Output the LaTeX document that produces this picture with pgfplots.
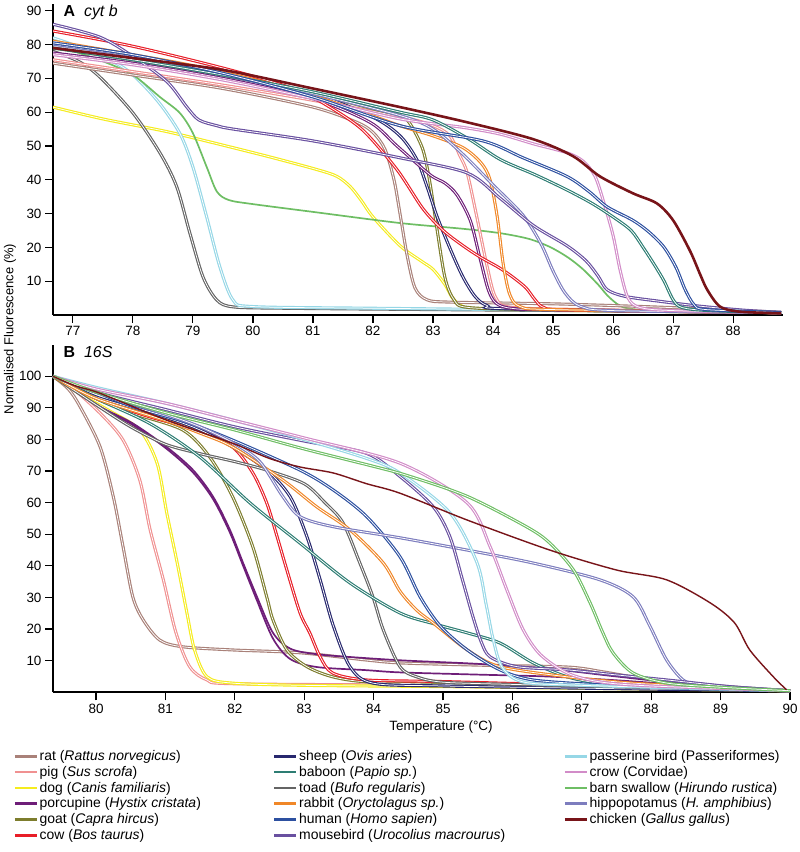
\documentclass[border=0pt]{standalone}
\usepackage{pgfplots}
\pgfplotsset{compat=1.18}
\usepackage{fontspec}
\setmainfont{Liberation Sans}

\definecolor{cRat}{RGB}{169,129,121}
\definecolor{cPig}{RGB}{240,145,145}
\definecolor{cDog}{RGB}{245,236,30}
\definecolor{cPorc}{RGB}{110,30,120}
\definecolor{cGoat}{RGB}{125,125,45}
\definecolor{cCow}{RGB}{232,30,40}
\definecolor{cSheep}{RGB}{40,40,110}
\definecolor{cBab}{RGB}{45,125,115}
\definecolor{cToad}{RGB}{100,100,100}
\definecolor{cRab}{RGB}{240,135,40}
\definecolor{cHum}{RGB}{45,80,160}
\definecolor{cMouse}{RGB}{105,80,160}
\definecolor{cPass}{RGB}{150,215,230}
\definecolor{cCrow}{RGB}{210,140,200}
\definecolor{cSwal}{RGB}{110,190,100}
\definecolor{cHippo}{RGB}{125,125,190}
\definecolor{cChick}{RGB}{120,20,25}

\pgfplotsset{
  rep/.style={line width=1.15bp, double=white, double distance=0.75bp, smooth, tension=0.5, forget plot, mark=none},
  sgl/.style={line width=1.7bp, smooth, tension=0.5, forget plot, mark=none},
  panel/.style={scale only axis, axis lines=left, axis line style={line width=1.6bp,-},
    tick align=outside, major tick length=8bp, tick style={line width=1.2bp,black},
    tick label style={font=\fontsize{13.5}{15}\selectfont},
    /pgf/number format/assume math mode=true, ymin=0},
}

\begin{document}
\begin{tikzpicture}
\useasboundingbox (0,0) rectangle (800bp,852bp);

% ---------------- Panel A ----------------
\begin{axis}[panel, at={(53bp,537bp)}, anchor=south west, width=730bp, height=311bp,
  xmin=76.67, xmax=88.83, ymax=92, xtick={77,...,88}, ytick={10,20,...,90}]
\addplot[cDog, rep] coordinates {(76.67,61.5) (77.5,58) (78.5,54.5) (79.1,52) (80.23,47) (81.07,43) (81.4,41) (81.62,38) (81.8,34) (82,29) (82.45,20.5) (82.8,16) (83,13.5) (83.2,9) (83.35,4.5) (83.6,2) (84.5,1.5) (88.8,0.7)};
\addplot[cToad, rep] coordinates {(76.67,78) (77.1,75) (77.45,70.4) (78,59.8) (78.45,48) (78.73,38) (78.95,24.2) (79.17,11.2) (79.4,4.4) (79.67,2.4) (80.5,2) (83,1.6) (86,1.2) (88.8,0.7)};
\addplot[cPass, rep] coordinates {(76.67,82) (77.3,78) (77.9,72.5) (78.4,63.6) (78.78,53.8) (79,43.8) (79.23,29) (79.45,14.2) (79.67,4.4) (80,2.5) (82,2) (86,1.3) (88.8,0.7)};
\addplot[cSwal, sgl] coordinates {(76.67,80) (77.45,75.4) (78,71) (78.45,64.5) (78.78,59.8) (79,53.8) (79.23,43.8) (79.4,36.5) (79.6,34) (80,32.8) (81,30.5) (82.45,27.2) (83.5,25.5) (84.12,24.2) (84.6,22.5) (84.95,20.1) (85.25,17) (85.5,13.5) (85.75,9) (85.95,5) (86.23,2) (87,1.2) (88.8,0.7)};
\addplot[cRat, rep] coordinates {(76.67,74.5) (78,71) (79.5,67) (81,61.5) (81.73,57) (82.0,54) (82.2,49) (82.35,40) (82.45,30) (82.57,17.5) (82.7,8) (82.9,4.5) (83.3,3.8) (85,3.3) (86.5,2.5) (87.5,1.8) (88.8,0.8)};
\addplot[cPig, rep] coordinates {(76.67,75.5) (78,72) (79.5,68) (81,63.5) (82.5,58.5) (83,56) (83.28,53) (83.45,47) (83.57,42) (83.73,29) (83.9,14.5) (84.05,5) (84.35,2.2) (86,1.5) (88.8,0.7)};
\addplot[cGoat, rep] coordinates {(76.67,79) (78,75.5) (79.5,71) (81,65.5) (82,61) (82.45,59) (82.62,56.5) (82.83,49) (82.95,39) (83.07,25) (83.2,11) (83.35,4.5) (83.6,2.2) (85,1.5) (88.8,0.7)};
\addplot[cSheep, rep] coordinates {(76.67,80) (78,76.5) (79.5,71) (81,65.5) (82,58.5) (82.45,53) (82.73,46) (82.9,38) (83.07,29) (83.3,19) (83.5,11.2) (83.7,5.5) (83.9,2.8) (84.3,1.8) (88.8,0.7)};
\addplot[cPorc, rep] coordinates {(76.67,77.5) (78,74.5) (79.5,70) (81,64) (81.95,57) (82.4,50) (82.95,41.5) (83.2,39) (83.4,35.5) (83.62,28) (83.78,17) (83.92,7.5) (84.05,3.5) (84.3,2) (85,1.5) (88.8,0.7)};
\addplot[cCow, rep] coordinates {(76.67,84) (78,79.5) (79.62,72.5) (80.73,66.6) (81.28,61.5) (81.83,54.7) (82.4,43) (82.83,31.5) (83.17,25) (83.5,20.5) (83.78,17.2) (84.1,14) (84.33,11.2) (84.55,8) (84.7,4.5) (84.85,2.2) (85.3,1.5) (88.8,0.7)};
\addplot[cRab, rep] coordinates {(76.67,81) (78,77) (79.1,73.4) (80.5,67.5) (81.5,62) (82.45,56) (83.0,53) (83.5,49.5) (83.8,45) (83.95,40) (84.07,29) (84.17,15) (84.28,6) (84.45,2.5) (85,1.6) (88.8,0.7)};
\addplot[cHippo, rep] coordinates {(76.67,79.5) (78,76) (79.5,71) (81,65.5) (82.45,59) (83.0,55) (83.5,47.5) (84,38.5) (84.5,29.5) (84.8,21) (85.0,13) (85.2,6.5) (85.45,2.6) (86,1.3) (88.8,0.7)};
\addplot[cMouse, rep] coordinates {(76.67,86) (77.45,82.2) (78,76.5) (78.57,69) (78.9,61.5) (79.1,57.7) (79.4,56) (79.67,55) (81,51.5) (82.45,46.5) (83.57,42) (84.12,34.5) (84.67,26.5) (85.23,20.5) (85.55,16) (85.75,11.5) (85.9,7.5) (86.2,5.5) (86.8,4) (87.45,2.6) (88.2,1.4) (88.8,0.8)};
\addplot[cCrow, rep] coordinates {(76.67,77) (78,74) (79.5,69.5) (81,64) (82.45,58) (83.5,55.5) (84.12,53.5) (84.7,50.5) (85.23,48) (85.5,45.5) (85.7,41) (85.85,33) (86,23.5) (86.12,13) (86.25,5) (86.45,2.2) (87,1.3) (88.8,0.7)};
\addplot[cBab, rep] coordinates {(76.67,79) (78,75.5) (79.5,71) (81,66) (82.45,60) (83,57.7) (83.6,52) (84.12,46) (84.7,41.5) (85.23,37) (85.65,33) (86,29) (86.3,25) (86.5,20) (86.7,14.5) (86.85,10) (87.0,4.5) (87.15,2.2) (87.6,1.3) (88.8,0.7)};
\addplot[cHum, rep] coordinates {(76.67,80.5) (78,77) (79.5,71.5) (81,64.5) (82.45,56) (83.83,51.5) (84.5,46.5) (85.23,41) (85.6,36.5) (85.9,32) (86.33,28) (86.6,24.5) (86.85,20) (87.05,14) (87.2,7.5) (87.35,3) (87.55,1.6) (88.8,0.7)};
\addplot[cChick, line width=2.6bp, smooth, tension=0.5, forget plot] coordinates {(76.67,79) (78,76) (79.5,72.5) (81,67) (82.45,61.5) (83.57,57) (84.67,52) (85.33,47) (85.78,41) (86.33,36) (86.73,33) (87,28) (87.28,19) (87.45,12) (87.57,7.4) (87.78,2.5) (88.1,1) (88.8,0.5)};
\end{axis}

% ---------------- Panel B ----------------
\begin{axis}[panel, at={(53bp,159.7bp)}, anchor=south west, width=737bp, height=347.6bp,
  xmin=79.38, xmax=90, ymax=110, xtick={80,...,90}, ytick={10,20,...,100},
  legend style={draw=none, fill=none, font=\fontsize{14}{16}\selectfont,
    at={(-0.0536,-0.1625)}, anchor=north west, inner sep=0pt, row sep=1.2bp,
    nodes={inner sep=1.5bp}},
  legend cell align=left,
  legend image code/.code={\draw[#1, line width=2.5bp] (0bp,0bp) -- (22bp,0bp);}]
\addlegendimage{cRat}\addlegendentry{\makebox[232bp][l]{rat (\textit{Rattus norvegicus})}}
\addlegendimage{cSheep}\addlegendentry{\makebox[263bp][l]{sheep (\textit{Ovis aries})}}
\addlegendimage{cPass}\addlegendentry{passerine bird (Passeriformes)}
\addlegendimage{cPig}\addlegendentry{pig (\textit{Sus scrofa})}
\addlegendimage{cBab}\addlegendentry{baboon (\textit{Papio sp.})}
\addlegendimage{cCrow}\addlegendentry{crow (Corvidae)}
\addlegendimage{cDog}\addlegendentry{dog (\textit{Canis familiaris})}
\addlegendimage{cToad}\addlegendentry{toad (\textit{Bufo regularis})}
\addlegendimage{cSwal}\addlegendentry{barn swallow (\textit{Hirundo rustica})}
\addlegendimage{cPorc}\addlegendentry{porcupine (\textit{Hystix cristata})}
\addlegendimage{cRab}\addlegendentry{rabbit (\textit{Oryctolagus sp.})}
\addlegendimage{cHippo}\addlegendentry{hippopotamus (\textit{H. amphibius})}
\addlegendimage{cGoat}\addlegendentry{goat (\textit{Capra hircus})}
\addlegendimage{cHum}\addlegendentry{human (\textit{Homo sapien})}
\addlegendimage{cChick}\addlegendentry{chicken (\textit{Gallus gallus})}
\addlegendimage{cCow}\addlegendentry{cow (\textit{Bos taurus})}
\addlegendimage{cMouse}\addlegendentry{mousebird (\textit{Urocolius macrourus})}
\pgfplotsset{legend columns=3}

\addplot[cRat, rep] coordinates {(79.38,100) (79.6,96) (79.77,90.4) (80.06,77.6) (80.25,61.8) (80.39,46) (80.53,30.2) (80.68,22.9) (80.92,16.5) (81.25,14.4) (81.97,13.4) (82.94,12.5) (83.9,10.2) (84.38,9.3) (85.5,8.6) (86.79,8.0) (87.3,6.5) (87.74,4.9) (88.5,3) (89.18,1.7) (90,0.5)};
\addplot[cPig, rep] coordinates {(79.38,100) (79.58,97.8) (80.06,88.3) (80.39,79.8) (80.63,67.2) (80.78,51.4) (80.97,35.6) (81.15,19) (81.35,8.1) (81.6,3.9) (82,2.7) (85,2.2) (88,1.3) (90,0.5)};
\addplot[cDog, rep] coordinates {(79.38,100) (79.8,94) (80.2,89) (80.63,83) (80.88,72.5) (81.02,56.7) (81.17,40.9) (81.31,25.1) (81.42,13.4) (81.6,4.9) (81.97,2.9) (83,2.2) (85,1.8) (88,1) (90,0.5)};
\addplot[cPorc, sgl] coordinates {(79.38,100) (80.06,90.4) (80.53,85.1) (81.02,77.6) (81.4,70.3) (81.69,61.8) (81.93,51.4) (82.12,40.9) (82.32,30.2) (82.55,18.8) (82.8,13.8) (83.2,12) (83.9,10.8) (84.5,10) (85.5,9) (86.5,7.5) (87.5,5) (88.5,2.7) (90,0.5)};
\addplot[cPorc, sgl] coordinates {(79.38,100) (80.06,90) (80.53,84.6) (81.02,77) (81.4,69.5) (81.69,61) (81.93,50.5) (82.12,40) (82.32,29) (82.55,17) (82.8,10.5) (83.18,8) (83.9,7) (84.38,6.3) (85.5,5.6) (86.5,5) (87.5,3.8) (88.5,2.3) (90,0.5)};
\addplot[cGoat, rep] coordinates {(79.38,100) (80,93) (80.53,88.3) (81.25,83) (81.64,74.4) (81.97,61.8) (82.26,46) (82.46,30.2) (82.55,22.9) (82.75,13.4) (83.04,8.1) (83.41,4.9) (83.9,3.3) (85,2.5) (88,1.3) (90,0.5)};
\addplot[cCow, rep] coordinates {(79.38,100) (80,93) (80.8,87) (81.5,83) (81.97,77.6) (82.26,69.4) (82.46,59.9) (82.61,49.2) (82.75,38.7) (82.94,25.1) (83.08,18.8) (83.23,11.2) (83.41,6.1) (83.9,3.9) (85,3.4) (87,2.2) (90,0.5)};
\addplot[cSheep, rep] coordinates {(79.38,100) (80,93.5) (81,87) (81.5,83) (81.97,77.6) (82.46,70.3) (82.8,61.8) (83.04,49.2) (83.23,35.6) (83.42,21) (83.66,8.1) (83.99,2.9) (85,2) (88,1) (90,0.5)};
\addplot[cToad, rep] coordinates {(79.38,100) (80,91) (80.5,84) (81,78.5) (81.5,75.5) (82,73) (82.46,70.3) (83,66) (83.3,60) (83.56,53.6) (83.8,41) (83.99,30.2) (84.14,19.7) (84.38,8.1) (84.62,4.9) (85,3.2) (86,2.5) (88,1.5) (90,0.5)};
\addplot[cBab, rep] coordinates {(79.38,100) (80,93) (80.78,85) (81.5,74.4) (82.22,59.9) (82.94,47.2) (83.66,34.6) (84.38,25.1) (84.9,21.5) (85.35,18.8) (85.82,15.6) (86.3,9.3) (86.79,4.9) (87.26,2.9) (88,1.8) (90,0.5)};
\addplot[cRab, rep] coordinates {(79.38,100) (80,93) (81,86) (81.5,82) (81.97,77.6) (82.69,67.2) (83.18,58.7) (83.66,51.4) (84.14,40.9) (84.38,32) (84.62,26) (84.86,21.9) (85.35,13.4) (85.82,8.1) (86.79,4.9) (87.74,2.9) (89,1.5) (90,0.5)};
\addplot[cHum, rep] coordinates {(79.38,100) (80,95) (80.53,90.4) (81.3,85.5) (81.97,79.8) (82.94,70.3) (83.42,64) (83.9,55.6) (84.38,42.9) (84.67,30.2) (84.96,21) (85.35,13.4) (85.82,7.1) (86.3,3.9) (87.26,2.4) (88.5,1.3) (90,0.5)};
\addplot[cHippo, rep] coordinates {(79.38,100) (80,95) (81,88) (81.5,84) (81.97,79) (82.36,73) (82.69,62) (82.94,55.6) (83.42,52.4) (84.38,48.9) (85.35,45) (86.3,40.9) (87.26,35.6) (87.74,30.2) (87.98,21) (88.22,10.3) (88.46,3.9) (88.7,2.4) (89.5,1.2) (90,0.5)};
\addplot[cMouse, rep] coordinates {(79.38,100) (80,95) (81,89.5) (82,84) (83,79.5) (83.9,75.6) (84.38,68.3) (84.86,58.7) (85.1,49.2) (85.28,35.6) (85.43,24) (85.55,16) (85.68,11.2) (86.07,8.1) (86.79,7.1) (87.5,5.5) (88.23,3.9) (89.18,1.7) (90,0.5)};
\addplot[cPass, rep] coordinates {(79.38,100) (80,96.5) (81,91.5) (82,86) (83,80) (83.9,74) (84.38,69.4) (85.1,56.8) (85.49,41) (85.62,28) (85.72,17) (85.85,8) (86.15,3.3) (87,2.2) (90,0.5)};
\addplot[cCrow, rep] coordinates {(79.38,100) (80,96) (81,91.5) (82,86) (83,80.5) (84.38,72.5) (85.35,59.9) (85.68,46) (85.92,32.4) (86.15,20) (86.4,12) (86.79,6.1) (87.26,3.3) (88,2) (90,0.5)};
\addplot[cSwal, rep] coordinates {(79.38,100) (80,95) (81,88.5) (82,83) (83,77) (84,71.5) (84.5,68.5) (85.35,62) (86.21,52.3) (86.54,47.2) (86.88,38.7) (87.12,28.3) (87.3,19) (87.45,12.5) (87.74,6.1) (88.23,2.9) (89,1.6) (90,0.5)};
\addplot[cChick, line width=1.4bp, smooth, tension=0.5, forget plot] coordinates {(79.38,100) (79.7,97) (80.06,94.6) (81.02,86.1) (81.97,78.8) (82.5,74) (82.94,71.3) (83.42,69.4) (83.9,66) (84.38,63) (85.35,54.5) (86.54,45) (87.5,38.7) (88.22,35.6) (88.85,28.3) (89.2,22) (89.42,13.4) (89.76,4.9) (89.95,0.8)};
\end{axis}

\node[anchor=west, font=\fontsize{16}{18}\selectfont] at (60bp,840bp) {\textbf{A}\hspace{9bp}\textit{cyt b}};
\node[anchor=west, font=\fontsize{16}{18}\selectfont] at (60bp,500bp) {\textbf{B}\hspace{9bp}\textit{16S}};
\node[rotate=90, font=\fontsize{13}{15}\selectfont] at (10bp,523bp) {Normalised Fluorescence (\%)};
\node[font=\fontsize{13.5}{15}\selectfont] at (441bp,125bp) {Temperature (°C)};
\end{tikzpicture}
\end{document}
